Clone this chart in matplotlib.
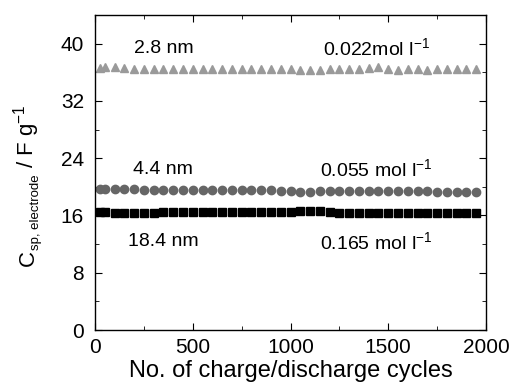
import matplotlib
matplotlib.use("Agg")
import matplotlib.pyplot as plt
from matplotlib.ticker import MultipleLocator

plt.rcParams['font.family'] = ['Liberation Sans', 'DejaVu Sans']
plt.rcParams['mathtext.fontset'] = 'custom'
plt.rcParams['mathtext.rm'] = 'Liberation Sans'
plt.rcParams['mathtext.it'] = 'Liberation Sans'

cycles = [25, 50] + list(range(100, 2000, 50))

c_28nm = [36.6, 36.7, 36.7, 36.6, 36.5, 36.5, 36.5, 36.5, 36.5, 36.5,
          36.5, 36.4, 36.4, 36.5, 36.5, 36.5, 36.5, 36.5, 36.5, 36.4,
          36.4, 36.3, 36.3, 36.3, 36.4, 36.4, 36.5, 36.5, 36.6, 36.7,
          36.5, 36.3, 36.4, 36.5, 36.3, 36.4, 36.5, 36.5, 36.5, 36.5]
c_44nm = [19.7, 19.7, 19.7, 19.7, 19.7, 19.6, 19.6, 19.6, 19.6, 19.6,
          19.6, 19.6, 19.5, 19.5, 19.5, 19.5, 19.5, 19.5, 19.5, 19.4,
          19.4, 19.3, 19.3, 19.4, 19.4, 19.4, 19.4, 19.4, 19.4, 19.4,
          19.4, 19.4, 19.4, 19.4, 19.4, 19.3, 19.3, 19.3, 19.3, 19.3]
c_184nm = [16.5, 16.5, 16.4, 16.4, 16.4, 16.4, 16.4, 16.5, 16.5, 16.5,
           16.5, 16.5, 16.5, 16.5, 16.5, 16.5, 16.5, 16.5, 16.5, 16.5,
           16.5, 16.6, 16.6, 16.6, 16.5, 16.4, 16.4, 16.4, 16.4, 16.4,
           16.4, 16.4, 16.4, 16.4, 16.4, 16.4, 16.4, 16.3, 16.3, 16.3]

labels_left = ["2.8 nm", "4.4 nm", "18.4 nm"]
labels_right = [r"0.022mol l$^{-1}$", r"0.055 mol l$^{-1}$", r"0.165 mol l$^{-1}$"]
label_y = [39.3, 22.4, 12.3]

W, H = 509, 388
fig = plt.figure(figsize=(W / 100, H / 100), dpi=100)
ax = fig.add_axes([95 / W, 1 - 330 / H, 391 / W, 315 / H])

ax.plot(cycles, c_28nm, linestyle='none', marker='^', ms=5.5, color='#9a9a9a', mec='#9a9a9a')
ax.plot(cycles, c_44nm, linestyle='none', marker='o', ms=6, color='#666666', mec='#666666')
ax.plot(cycles, c_184nm, linestyle='none', marker='s', ms=5.5, color='#000000')

for t, y in zip(labels_left, label_y):
    ax.text(350, y, t, ha='center', va='center', fontsize=14)
for t, y in zip(labels_right, label_y):
    ax.text(1440, y, t, ha='center', va='center', fontsize=14)

ax.set_xlim(0, 2000)
ax.set_ylim(0, 44)
ax.xaxis.set_major_locator(MultipleLocator(500))
ax.xaxis.set_minor_locator(MultipleLocator(250))
ax.yaxis.set_major_locator(MultipleLocator(8))
ax.yaxis.set_minor_locator(MultipleLocator(4))
ax.tick_params(which='both', direction='in', top=True, right=True, labelsize=15)
ax.tick_params(axis='x', which='both', pad=6)
ax.tick_params(axis='y', which='both', pad=8)
ax.tick_params(which='major', length=5)
ax.tick_params(which='minor', length=3)
for s in ax.spines.values():
    s.set_linewidth(1.0)

ax.set_xlabel("No. of charge/discharge cycles", fontsize=17, labelpad=2)

# y label built from pieces (small subscript like the original)
renderer = fig.canvas.get_renderer()
px = lambda x, y: (x / W, 1 - y / H)
base_x = 34      # baseline x position in pixels
y_cur = 266      # bottom start in pixels
pieces = [("C", 16, 0), ("sp, electrode", 9.5, 5), (" / F g$^{-1}$", 16, 0)]
for txt, fs, shift in pieces:
    t = fig.text(*px(base_x + shift, y_cur), txt, fontsize=fs, rotation=90,
                 rotation_mode='anchor', ha='left', va='baseline')
    bb = t.get_window_extent(renderer)
    y_cur -= bb.height

fig.savefig("out.png", dpi=100)
